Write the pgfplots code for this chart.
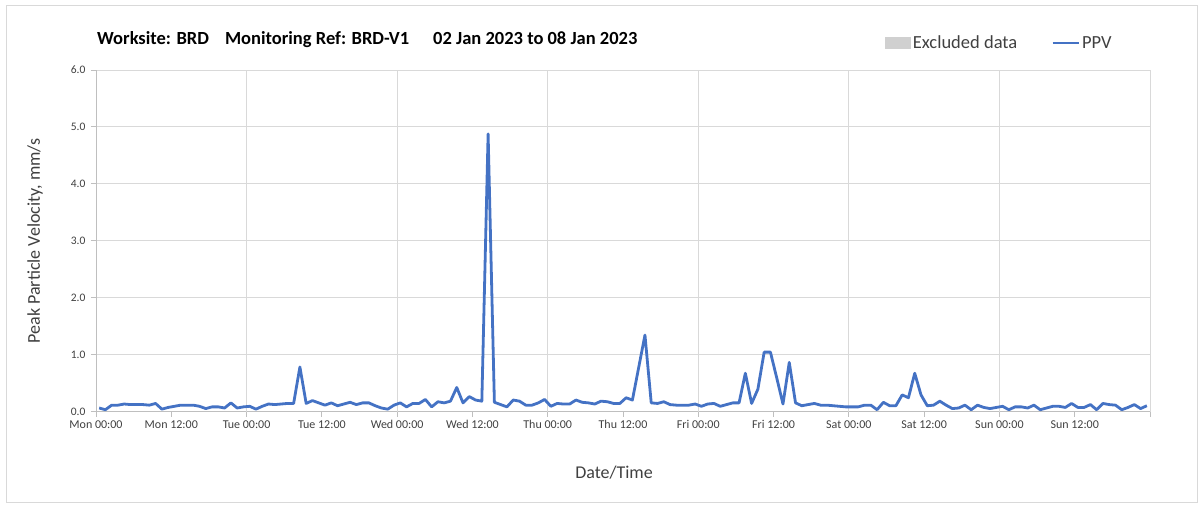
\documentclass[border=0pt]{standalone}
\usepackage{pgfplots}
\pgfplotsset{compat=1.18}
\usepackage{fontspec}
\setmainfont{Carlito}

\definecolor{ppv}{HTML}{4472C4}
\definecolor{gridc}{HTML}{D9D9D9}
\definecolor{axc}{HTML}{BFBFBF}
\definecolor{txt}{HTML}{404040}
\definecolor{excl}{HTML}{D0D0D0}

% hourly PPV, x = hours from Mon 00:00
\pgfplotstableread{
x y
0.5 0.07
1.5 0.04
2.5 0.12
3.5 0.12
4.5 0.14
5.5 0.13
6.5 0.13
7.5 0.13
8.5 0.12
9.5 0.15
10.5 0.05
11.5 0.08
12.5 0.10
13.5 0.12
14.5 0.12
15.5 0.12
16.5 0.10
17.5 0.06
18.5 0.09
19.5 0.09
20.5 0.07
21.5 0.16
22.5 0.07
23.5 0.09
24.5 0.10
25.5 0.05
26.5 0.10
27.5 0.14
28.5 0.13
29.5 0.14
30.5 0.15
31.5 0.15
32.5 0.79
33.5 0.15
34.5 0.20
35.5 0.16
36.5 0.12
37.5 0.16
38.5 0.11
39.5 0.14
40.5 0.17
41.5 0.13
42.5 0.16
43.5 0.16
44.5 0.11
45.5 0.07
46.5 0.05
47.5 0.12
48.5 0.16
49.5 0.09
50.5 0.15
51.5 0.15
52.5 0.22
53.5 0.09
54.5 0.18
55.5 0.16
56.5 0.19
57.5 0.43
58.5 0.16
59.5 0.27
60.5 0.21
61.5 0.19
62.5 4.88
63.5 0.17
64.5 0.13
65.5 0.09
66.5 0.21
67.5 0.19
68.5 0.12
69.5 0.12
70.5 0.16
71.5 0.22
72.5 0.10
73.5 0.15
74.5 0.14
75.5 0.14
76.5 0.21
77.5 0.17
78.5 0.16
79.5 0.14
80.5 0.19
81.5 0.18
82.5 0.15
83.5 0.15
84.5 0.25
85.5 0.21
86.5 0.78
87.5 1.35
88.5 0.16
89.5 0.15
90.5 0.18
91.5 0.13
92.5 0.12
93.5 0.12
94.5 0.12
95.5 0.14
96.5 0.10
97.5 0.14
98.5 0.15
99.5 0.10
100.5 0.13
101.5 0.16
102.5 0.16
103.5 0.68
104.5 0.15
105.5 0.40
106.5 1.05
107.5 1.05
108.5 0.60
109.5 0.14
110.5 0.87
111.5 0.16
112.5 0.11
113.5 0.13
114.5 0.15
115.5 0.12
116.5 0.12
117.5 0.11
118.5 0.10
119.5 0.09
120.5 0.09
121.5 0.09
122.5 0.12
123.5 0.12
124.5 0.04
125.5 0.17
126.5 0.11
127.5 0.11
128.5 0.30
129.5 0.25
130.5 0.68
131.5 0.30
132.5 0.11
133.5 0.12
134.5 0.19
135.5 0.12
136.5 0.06
137.5 0.07
138.5 0.12
139.5 0.04
140.5 0.12
141.5 0.08
142.5 0.06
143.5 0.08
144.5 0.10
145.5 0.04
146.5 0.09
147.5 0.09
148.5 0.07
149.5 0.12
150.5 0.04
151.5 0.07
152.5 0.10
153.5 0.10
154.5 0.08
155.5 0.15
156.5 0.08
157.5 0.08
158.5 0.13
159.5 0.04
160.5 0.15
161.5 0.13
162.5 0.12
163.5 0.04
164.5 0.08
165.5 0.13
166.5 0.06
167.5 0.11
}\ppvdata

\begin{document}
\begin{tikzpicture}
\path[use as bounding box] (0,0) rectangle (1203bp,506bp);
\draw[gridc, line width=1bp] (6bp,3bp) rectangle (1197bp,500bp);

\begin{axis}[
  at={(96bp,94bp)}, anchor=south west,
  scale only axis, width=1054bp, height=342bp,
  xmin=0, xmax=168, ymin=0, ymax=6,
  axis x line*=bottom, axis y line*=left,
  axis line style={-, draw=axc, line width=1bp},
  tick align=outside, major tick length=5bp,
  tick style={draw=axc, line width=1bp},
  ytick={0,1,...,6},
  yticklabel style={font=\fontsize{11.5bp}{13bp}\selectfont, text=txt, xshift=-2bp,
    /pgf/number format/fixed, /pgf/number format/fixed zerofill,
    /pgf/number format/precision=1, /pgf/number format/assume math mode=true},
  ymajorgrids, major grid style={draw=gridc, line width=1bp},
  xtick={0,12,...,168},
  xticklabels={Mon 00:00,Mon 12:00,Tue 00:00,Tue 12:00,Wed 00:00,Wed 12:00,Thu 00:00,Thu 12:00,Fri 00:00,Fri 12:00,Sat 00:00,Sat 12:00,Sun 00:00,Sun 12:00,{}},
  xticklabel style={font=\fontsize{12bp}{14bp}\selectfont, text=txt},
  extra x ticks={24,48,...,168},
  extra x tick labels={},
  extra x tick style={grid=major},
  xlabel={Date/Time},
  xlabel style={at={(axis description cs:0.4915,-0.1775)}, anchor=center, font=\fontsize{18bp}{20bp}\selectfont, text=txt},
  ylabel={Peak Particle Velocity, mm/s},
  ylabel style={at={(axis description cs:-0.0579,0.5)}, anchor=center, font=\fontsize{18bp}{20bp}\selectfont, text=txt},
  legend style={at={(rel axis cs:0.9685,1.079)}, anchor=east, draw=none, fill=none,
    font=\fontsize{18.5bp}{20bp}\selectfont, text=txt, legend columns=2,
    /tikz/every even column/.append style={column sep=32bp}},
  legend image code/.code={\draw[#1] (0bp,0bp) -- (26bp,0bp);},
  clip=false,
]
\addlegendimage{legend image code/.code={\fill[excl] (0bp,-5bp) rectangle (25bp,6bp);}}
\addlegendentry{Excluded data}
\addplot[ppv, line width=2.8bp, line join=round] table[x=x, y=y] {\ppvdata};
\addlegendentry{PPV}
\end{axis}

\node[anchor=base west, inner sep=0pt, font=\bfseries\fontsize{18.5bp}{20bp}\selectfont] at (97bp,461bp)
  {Worksite: BRD\hspace{16bp}Monitoring Ref: BRD-V1\hspace{24bp}02 Jan 2023 to 08 Jan 2023};
\end{tikzpicture}
\end{document}
